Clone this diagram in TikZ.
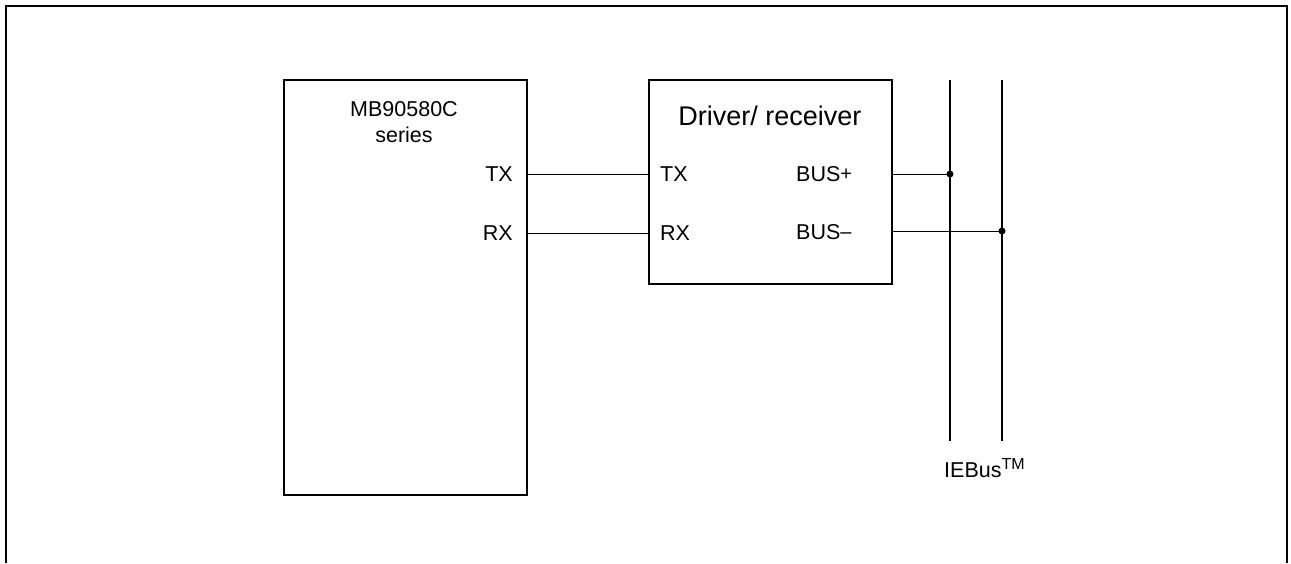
\documentclass[tikz,border=0pt]{standalone}
\usepackage{fontspec}
\setmainfont{Liberation Sans}
\usetikzlibrary{positioning}

\begin{document}
\begin{tikzpicture}[
    x=1pt, y=-1pt,
    every node/.style={font=\fontsize{21.5}{24}\selectfont, inner sep=0pt},
    blockbox/.style={draw, line width=2pt, minimum width=243pt, anchor=north west},
    wire/.style={line width=1pt},
    busline/.style={line width=2.2pt},
    junction/.style={circle, fill, minimum size=7pt, inner sep=0pt}
  ]
  \useasboundingbox (0,0) rectangle (1291,563);

  % Frame (open at the bottom)
  \draw[line width=2pt] (6,563) -- (6,6) -- (1287,6) -- (1287,563);

  % Blocks
  \node[blockbox, minimum height=415pt] (mcu) at (283,79) {};
  \node[blockbox, minimum height=204pt] (drv) at (648,79) {};

  % Block titles
  \node[align=center, font=\fontsize{21.5}{26}\selectfont] (mcutitle) at (404,122)
    {MB90580C\\series};
  \node[font=\fontsize{27}{29}\selectfont] (drvtitle) at (770,116) {Driver/ receiver};

  % Pin labels
  \node[anchor=west] (dbp) at (796,174) {BUS\raisebox{0.05ex}{\fontsize{20}{20}\selectfont +}};
  \node[anchor=west] (dbm) at (796,232) {BUS\raisebox{0.05ex}{\fontsize{20}{20}\selectfont –}};
  \node[anchor=east] (mtx) at (513,174) {TX};
  \node[anchor=east] (mrx) at (513,233) {RX};
  \node[anchor=west] (dtx) at (660,174) {TX};
  \node[anchor=west] (drx) at (660,233) {RX};

  % Bus lines
  \coordinate (bpt) at (950,80);
  \coordinate (bpb) at (950,441);
  \coordinate (bmt) at (1002,80);
  \coordinate (bmb) at (1002,441);
  \draw[busline] (bpt) -- (bpb);
  \draw[busline] (bmt) -- (bmb);
  \node[junction] (jp) at (950,174) {};
  \node[junction] (jm) at (1002,231) {};
  \node[anchor=west] (iebus) at (944,468) {IEBus\textsuperscript{\fontsize{16}{16}\selectfont TM}};

  % Connectors
  \draw[wire] (mcu.east |- mtx) -- (drv.west |- mtx);
  \draw[wire] (mcu.east |- mrx) -- (drv.west |- mrx);
  \draw[wire] (drv.east |- jp) -- (jp.center);
  \draw[wire] (drv.east |- jm) -- (jm.center);
\end{tikzpicture}
\end{document}
